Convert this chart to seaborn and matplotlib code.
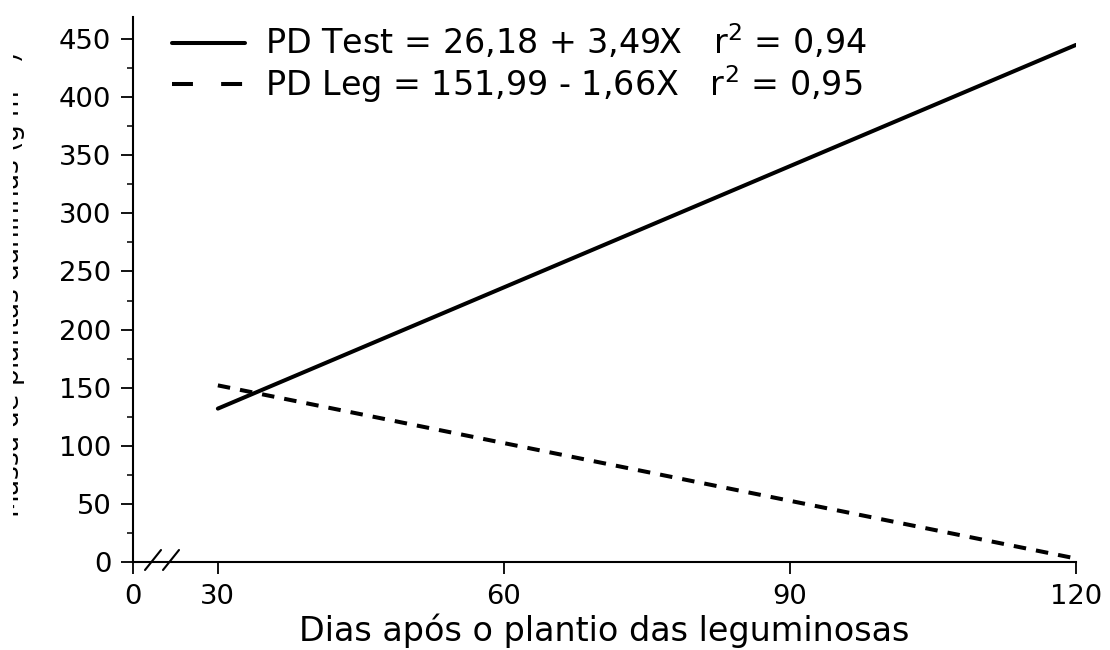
import matplotlib
matplotlib.use("Agg")
import matplotlib.pyplot as plt
import seaborn as sns
import pandas as pd
from matplotlib.lines import Line2D
from matplotlib.ticker import MultipleLocator
from matplotlib.transforms import Bbox, TransformedBbox

# data
days = [30, 120]
pd_test = [132, 445]
pd_leg = [152, 3]

x_tick_pos = [21.1, 30, 60, 90, 120]
x_tick_labels = ["0", "30", "60", "90", "120"]
y_ticks = [0, 50, 100, 150, 200, 250, 300, 350, 400, 450]

legend_labels = [
    "PD Test = 26,18 + 3,49X   r$^2$ = 0,94",
    "PD Leg = 151,99 - 1,66X   r$^2$ = 0,95",
]

sns.set_style("ticks")
plt.rcParams["font.family"] = ["DejaVu Sans"]
plt.rcParams["mathtext.fontset"] = "dejavusans"
plt.rcParams["text.color"] = "black"
plt.rcParams["axes.labelcolor"] = "black"

fig = plt.figure(figsize=(11.1, 6.5), dpi=100)
ax = fig.add_axes([133 / 1110, 1 - 562 / 650, (1076 - 133) / 1110, (562 - 17) / 650])

df = pd.DataFrame({"days": days, "test": pd_test, "leg": pd_leg})
sns.lineplot(data=df, x="days", y="test", ax=ax, color="black", lw=2.9)
sns.lineplot(data=df, x="days", y="leg", ax=ax, color="black", lw=2.9,
             dashes=False, ls=(0, (3.1, 2.5)))

ax.set_xlim(x_tick_pos[0], 120)
ax.set_ylim(0, 469)
ax.set_xticks(x_tick_pos)
ax.set_xticklabels(x_tick_labels)
ax.set_yticks(y_ticks)
ax.yaxis.set_minor_locator(MultipleLocator(25))

for s in ["top", "right"]:
    ax.spines[s].set_visible(False)
for s in ["left", "bottom"]:
    ax.spines[s].set_linewidth(1.5)
    ax.spines[s].set_color("black")

ax.tick_params(axis="both", which="major", length=8.5, width=1.3,
               labelsize=19.7, pad=7, colors="black")
ax.tick_params(axis="y", which="minor", length=4.3, width=1.1, colors="black")
ax.set_xlabel("Dias após o plantio das leguminosas", fontsize=24, labelpad=3)
ax.set_ylabel("")

# y label, cut at the left border as in the reference
ylab = fig.text(20 / 1110, 0.5615, "Massa de plantas daninhas (g m$^{-2}$)",
                rotation=90, rotation_mode="anchor", ha="center", va="baseline",
                fontsize=19, color="black")
ylab.set_clip_box(TransformedBbox(Bbox([[13 / 1110, 0], [1, 1]]), fig.transFigure))
ylab.set_clip_on(True)

# axis break marks
for x0 in [145, 163]:
    fig.add_artist(Line2D([x0 / 1110, (x0 + 16) / 1110],
                          [1 - 570 / 650, 1 - 550 / 650],
                          transform=fig.transFigure, color="black", lw=1.5))

handles = [
    Line2D([], [], color="black", lw=2.9),
    Line2D([], [], color="black", lw=2.9, ls=(0, (5.2, 7.0))),
]
ax.legend(handles, legend_labels, loc="upper left", frameon=False,
          bbox_to_anchor=(0.0414, 0.99), borderaxespad=0, borderpad=0,
          fontsize=24, handlelength=2.2, handletextpad=0.6, labelspacing=0.05)

fig.savefig("out.png", dpi=100)
